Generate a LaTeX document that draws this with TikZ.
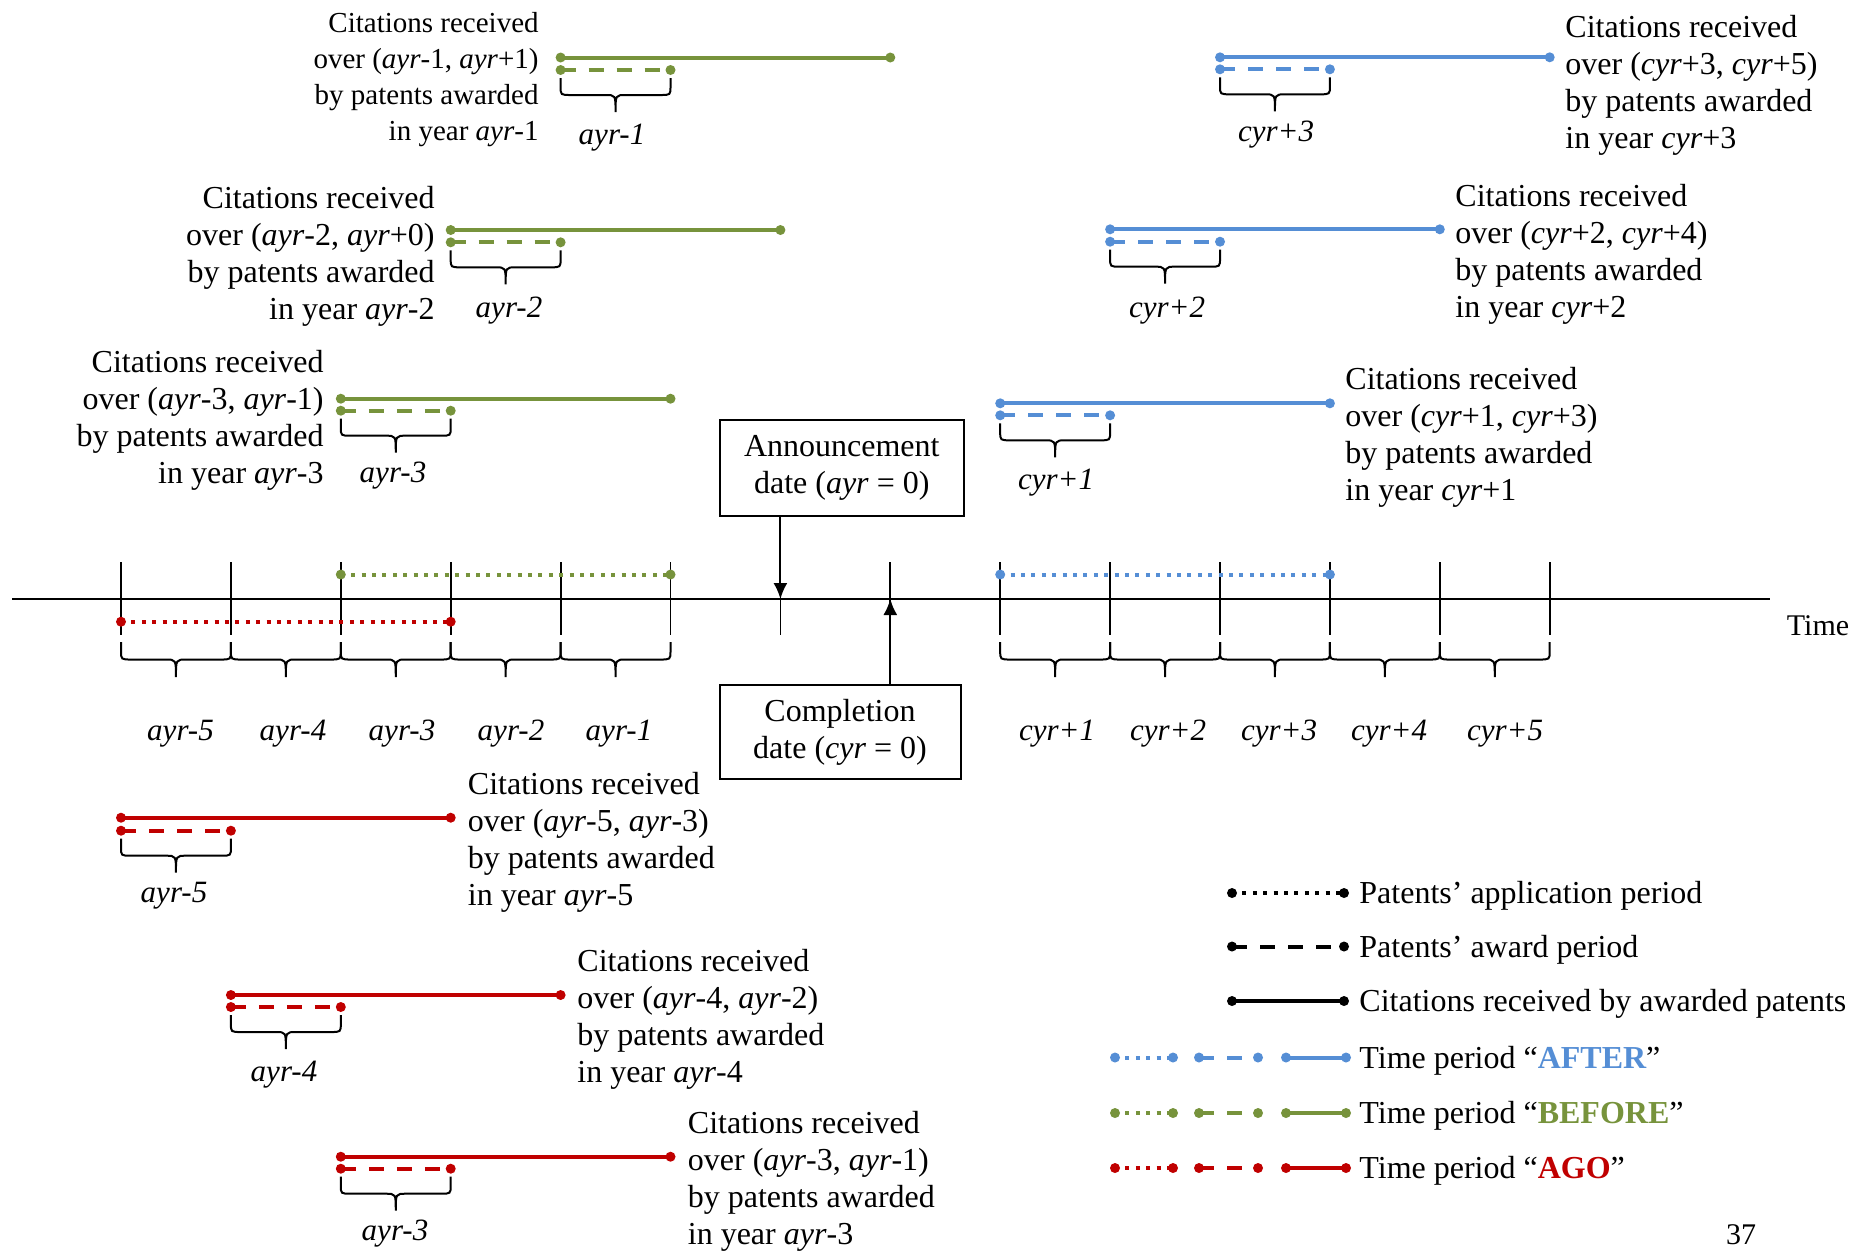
\documentclass[tikz,border=0pt]{standalone}
\usepackage{fontspec}
\setmainfont{Liberation Serif}
\usetikzlibrary{arrows.meta}
\definecolor{cblue}{RGB}{85,142,213}
\definecolor{cgreen}{RGB}{119,147,60}
\definecolor{cred}{RGB}{192,0,0}
\newcommand\seg[5]{%
  \draw[#1,#2] (#3,#5) -- (#4,#5);
  \fill[#2] (#3,#5) circle[radius=2.5pt] (#4,#5) circle[radius=2.5pt];}
\newcommand\cbrace[4]{%
  \pgfmathsetmacro\cbxa{#1}\pgfmathsetmacro\cbxb{#2}%
  \pgfmathsetmacro\cbya{#3}\pgfmathsetmacro\cbh{#4}%
  \pgfmathsetmacro\cbxm{(\cbxa+\cbxb)/2}%
  \pgfmathsetmacro\cbyb{\cbya+\cbh/2}%
  \pgfmathsetmacro\cbyc{\cbya+\cbh}%
  \pgfmathsetmacro\cbyq{\cbya+\cbh/4}%
  \pgfmathsetmacro\cbr{0.3*\cbh}%
  \draw[brc] (\cbxa,\cbya) -- (\cbxa,\cbyq) .. controls (\cbxa,\cbyb) .. ({\cbxa+\cbr},\cbyb)
    -- ({\cbxm-\cbr},\cbyb) .. controls (\cbxm,\cbyb) .. (\cbxm,\cbyc)
    .. controls (\cbxm,\cbyb) .. ({\cbxm+\cbr},\cbyb)
    -- ({\cbxb-\cbr},\cbyb) .. controls (\cbxb,\cbyb) .. (\cbxb,\cbyq) -- (\cbxb,\cbya);}
\newcommand\grpl[6]{%
  \seg{sol}{#1}{#2}{#4}{#5}
  \seg{dsh}{#1}{#2}{#3}{#6}
  \cbrace{#2}{#3}{#6+8}{34}}
\begin{document}
\begin{tikzpicture}[x=0.5pt,y=-0.5pt,
  sol/.style={line width=2pt},
  dsh/.style={line width=2pt,dash pattern=on 7.5pt off 6.5pt},
  dtt/.style={line width=2pt,dash pattern=on 2pt off 3.2pt},
  brc/.style={line width=1pt,black},
  tck/.style={line width=0.9pt},
  grp/.style={inner sep=0pt,font=\fontsize{16}{18.5}\selectfont},
  grpR/.style={grp,align=right,anchor=north east},
  grpL/.style={grp,align=left,anchor=north west},
  lbl/.style={inner sep=0pt,font=\fontsize{15.5}{18}\selectfont\itshape,anchor=base},
  boxn/.style={draw,line width=1pt,inner sep=0pt,align=center,font=\fontsize{16}{18.5}\selectfont},
  leg/.style={inner sep=0pt,anchor=base west,font=\fontsize{16}{19}\selectfont},
  arr/.style={line width=1pt,-{Latex[length=8pt,width=7pt]}}]
\useasboundingbox (0,0) rectangle (1871,1250);

% time axis and ticks
\draw[line width=1.1pt] (12,599) -- (1770,599);
\foreach \i in {0,...,13} \draw[tck] ({121+109.9*\i},562) -- ({121+109.9*\i},635);
\foreach \i in {0,...,4,8,9,10,11,12} \cbrace{121+109.9*\i}{121+109.9*(\i+1)}{642}{35};
\node[inner sep=0pt,anchor=base,font=\fontsize{15}{18}\selectfont] (time) at (1818,635) {Time};

% application periods on the axis
\seg{dtt}{cgreen}{340.8}{670.5}{574.5}
\seg{dtt}{cred}{121}{450.7}{621.7}
\seg{dtt}{cblue}{1000.2}{1329.9}{574.5}

% axis labels
\node[lbl] (a5) at (180.5,740) {ayr-5};
\node[lbl] (a4) at (293,740) {ayr-4};
\node[lbl] (a3) at (402,740) {ayr-3};
\node[lbl] (a2) at (511,740) {ayr-2};
\node[lbl] (a1) at (619,740) {ayr-1};
\node[lbl] (c1) at (1057,740) {cyr+1};
\node[lbl] (c2) at (1168,740) {cyr+2};
\node[lbl] (c3) at (1279,740) {cyr+3};
\node[lbl] (c4) at (1389,740) {cyr+4};
\node[lbl] (c5) at (1505,740) {cyr+5};

% announcement / completion
\node[boxn,minimum width=122.25pt,minimum height=47.75pt] (ann) at (841.75,467.75)
  {Announcement\\ date (\textit{ayr} = 0)};
\node[boxn,minimum width=120.5pt,minimum height=47pt] (comp) at (840,732)
  {Completion\\ date (\textit{cyr} = 0)};
\coordinate (t6) at (780.4,599);
\coordinate (t7) at (890.3,599);
\draw[arr] (ann.south -| t6) -- (t6);
\draw[arr] (comp.north -| t7) -- (t7);

% BEFORE groups
\grpl{cgreen}{560.6}{670.5}{890.3}{57.5}{70}
\grpl{cgreen}{450.7}{560.6}{780.4}{230}{242.3}
\grpl{cgreen}{340.8}{450.7}{670.5}{398.7}{410.7}
\node[grpR,font=\fontsize{14.5}{18}\selectfont] (tg1) at (539,11.7)
  {Citations received\\ over (\textit{ayr}-1, \textit{ayr}+1)\\ by patents awarded\\ in year \textit{ayr}-1};
\node[grpR] (tg2) at (435,186)
  {Citations received\\ over (\textit{ayr}-2, \textit{ayr}+0)\\ by patents awarded\\ in year \textit{ayr}-2};
\node[grpR] (tg3) at (324,350)
  {Citations received\\ over (\textit{ayr}-3, \textit{ayr}-1)\\ by patents awarded\\ in year \textit{ayr}-3};
\node[lbl] (lg1) at (612,144) {ayr-1};
\node[lbl] (lg2) at (509,317) {ayr-2};
\node[lbl] (lg3) at (393,482) {ayr-3};

% AFTER groups
\grpl{cblue}{1220}{1329.9}{1549.7}{57.3}{69.3}
\grpl{cblue}{1110.1}{1220}{1439.8}{229.3}{241.7}
\grpl{cblue}{1000.2}{1110.1}{1329.9}{403.3}{415.3}
\node[grpL] (tb3) at (1565,15)
  {Citations received\\ over (\textit{cyr}+3, \textit{cyr}+5)\\ by patents awarded\\ in year \textit{cyr}+3};
\node[grpL] (tb2) at (1455,184)
  {Citations received\\ over (\textit{cyr}+2, \textit{cyr}+4)\\ by patents awarded\\ in year \textit{cyr}+2};
\node[grpL] (tb1) at (1345,367)
  {Citations received\\ over (\textit{cyr}+1, \textit{cyr}+3)\\ by patents awarded\\ in year \textit{cyr}+1};
\node[lbl] (lb3) at (1276,141) {cyr+3};
\node[lbl] (lb2) at (1167,317) {cyr+2};
\node[lbl] (lb1) at (1056,489) {cyr+1};

% AGO groups
\grpl{cred}{121}{230.9}{450.7}{817.7}{830.7}
\grpl{cred}{230.9}{340.8}{560.6}{995}{1007}
\grpl{cred}{340.8}{450.7}{670.5}{1156.7}{1168.7}
\node[grpL] (tr5) at (467.5,772)
  {Citations received\\ over (\textit{ayr}-5, \textit{ayr}-3)\\ by patents awarded\\ in year \textit{ayr}-5};
\node[grpL] (tr4) at (577,949)
  {Citations received\\ over (\textit{ayr}-4, \textit{ayr}-2)\\ by patents awarded\\ in year \textit{ayr}-4};
\node[grpL] (tr3) at (687.5,1111)
  {Citations received\\ over (\textit{ayr}-3, \textit{ayr}-1)\\ by patents awarded\\ in year \textit{ayr}-3};
\node[lbl] (lr5) at (174,902) {ayr-5};
\node[lbl] (lr4) at (284,1081) {ayr-4};
\node[lbl] (lr3) at (395,1240) {ayr-3};

% legend
\seg{dtt}{black}{1232}{1344}{893}
\seg{dsh}{black}{1232}{1344}{946.5}
\seg{sol}{black}{1232}{1344}{1001}
\node[leg] (k1) at (1359,903.5) {Patents’ application period};
\node[leg] (k2) at (1359,957) {Patents’ award period};
\node[leg] (k3) at (1359,1011.5) {Citations received by awarded patents};
\seg{dtt}{cblue}{1115}{1173}{1057.5}
\seg{dsh}{cblue}{1199}{1258}{1057.5}
\seg{sol}{cblue}{1286}{1346}{1057.5}
\node[leg] (k4) at (1359,1068) {Time period “\textbf{\color{cblue}AFTER}”};
\seg{dtt}{cgreen}{1115}{1173}{1113}
\seg{dsh}{cgreen}{1199}{1258}{1113}
\seg{sol}{cgreen}{1286}{1346}{1113}
\node[leg] (k5) at (1359,1123.5) {Time period “\textbf{\color{cgreen}BEFORE}”};
\seg{dtt}{cred}{1115}{1173}{1168}
\seg{dsh}{cred}{1199}{1258}{1168}
\seg{sol}{cred}{1286}{1346}{1168}
\node[leg] (k6) at (1359,1178.5) {Time period “\textbf{\color{cred}AGO}”};

\node[inner sep=0pt,anchor=base,font=\fontsize{15}{18}\selectfont] (pg) at (1741,1244) {37};
\end{tikzpicture}
\end{document}
